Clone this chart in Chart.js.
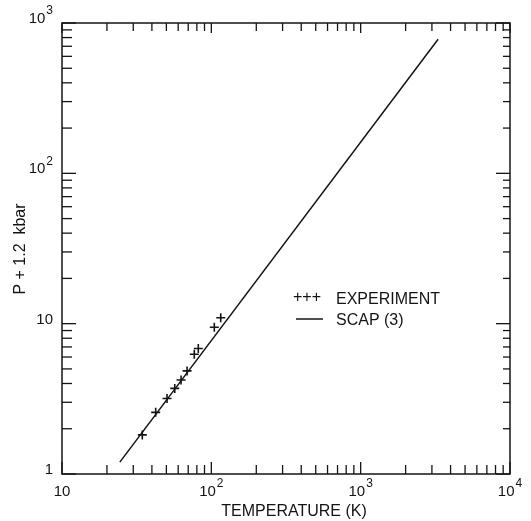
<!DOCTYPE html>
<html>
<head>
<meta charset="utf-8">
<script src="https://cdn.jsdelivr.net/npm/chart.js@4"></script>
<style>
  html, body { margin: 0; padding: 0; background: #fff; }
</style>
</head>
<body>
<canvas id="myChart" width="531" height="521"></canvas>
<script>
// valores
const expTemp = [34.5, 42.4, 50.5, 56.9, 62.7, 68.8, 76.9, 81.8, 104.7, 115.6];
const expP = [1.82, 2.57, 3.18, 3.71, 4.22, 4.85, 6.26, 6.84, 9.46, 10.96];
const scapTemp = [24.4, 3300];
const scapP = [1.2, 780];

const xDecades = [10, 100, 1000, 10000];
const xTickBase = ['10', '10', '10', '10'];
const xTickExp = ['', '2', '3', '4'];
const yDecades = [1, 10, 100, 1000];
const yTickBase = ['1', '10', '10', '10'];
const yTickExp = ['', '', '2', '3'];

const ink = '#141414';
const font = "'Liberation Sans', Arial, sans-serif";

function seg(ctx, x1, y1, x2, y2) {
  ctx.beginPath();
  ctx.moveTo(x1, y1);
  ctx.lineTo(x2, y2);
  ctx.stroke();
}

function powerLabel(ctx, base, exp, x, y, align) {
  ctx.font = '15px ' + font;
  const wb = ctx.measureText(base).width;
  ctx.font = '12px ' + font;
  const we = exp ? ctx.measureText(exp).width + 1 : 0;
  let left = x - (wb + we) / 2;
  if (align === 'right') left = x - wb - we;
  ctx.textAlign = 'left';
  ctx.textBaseline = 'middle';
  ctx.font = '15px ' + font;
  ctx.fillText(base, left, y);
  if (exp) {
    ctx.font = '12px ' + font;
    ctx.fillText(exp, left + wb + 1, y - 8);
  }
}

// moldura, marcas para dentro, rótulos e legenda
const framePlugin = {
  id: 'frame',
  afterDraw(chart) {
    const { ctx, chartArea: a, scales: { x, y } } = chart;
    ctx.save();
    ctx.strokeStyle = ink;
    ctx.fillStyle = ink;
    ctx.lineWidth = 1.5;
    ctx.strokeRect(a.left, a.top, a.right - a.left, a.bottom - a.top);

    ctx.lineWidth = 1.3;
    xDecades.forEach((d, i) => {
      for (let m = 1; m <= 9; m++) {
        if (i === xDecades.length - 1 && m > 1) break;
        const px = x.getPixelForValue(d * m);
        const major = m === 1;
        seg(ctx, px, a.bottom, px, a.bottom - (major ? 12 : 9));
        seg(ctx, px, a.top, px, a.top + (major ? 10 : 8));
      }
      powerLabel(ctx, xTickBase[i], xTickExp[i], x.getPixelForValue(d), a.bottom + 18, 'center');
    });
    yDecades.forEach((d, i) => {
      for (let m = 1; m <= 9; m++) {
        if (i === yDecades.length - 1 && m > 1) break;
        const py = y.getPixelForValue(d * m);
        const major = m === 1;
        seg(ctx, a.left, py, a.left + (major ? 14 : 10), py);
        seg(ctx, a.right, py, a.right - (major ? 14 : 7), py);
      }
      powerLabel(ctx, yTickBase[i], yTickExp[i], a.left - 9, y.getPixelForValue(d) - 4, 'right');
    });

    // títulos dos eixos
    ctx.font = '16px ' + font;
    ctx.textAlign = 'center';
    ctx.textBaseline = 'middle';
    ctx.fillText('TEMPERATURE (K)', (a.left + a.right) / 2 + 8, a.bottom + 38);
    ctx.save();
    ctx.translate(21, 249);
    ctx.rotate(-Math.PI / 2);
    ctx.fillText('P + 1.2  kbar', 0, 0);
    ctx.restore();

    // legenda
    ctx.textAlign = 'left';
    ctx.font = '16px ' + font;
    ctx.fillText('+++', 293, 298);
    ctx.fillText('EXPERIMENT', 336, 300);
    ctx.lineWidth = 1.5;
    seg(ctx, 296, 319, 323, 319);
    ctx.fillText('SCAP (3)', 336, 321);
    ctx.restore();
  }
};

const ctx = document.getElementById('myChart').getContext('2d');

new Chart(ctx, {
  type: 'scatter',
  data: {
    datasets: [
      {
        label: 'EXPERIMENT',
        data: expTemp.map((t, i) => ({ x: t, y: expP[i] })),
        pointStyle: 'cross',
        pointRadius: 4.5,
        pointBorderWidth: 1.6,
        borderColor: ink,
        backgroundColor: ink,
        showLine: false
      },
      {
        label: 'SCAP (3)',
        data: scapTemp.map((t, i) => ({ x: t, y: scapP[i] })),
        showLine: true,
        pointRadius: 0,
        borderColor: ink,
        borderWidth: 1.5
      }
    ]
  },
  options: {
    responsive: false,
    animation: false,
    layout: { padding: { top: 23, right: 21, left: 0, bottom: 0 } },
    plugins: {
      legend: { display: false },
      tooltip: { enabled: false }
    },
    scales: {
      x: {
        type: 'logarithmic',
        min: 10,
        max: 10000,
        grid: { display: false },
        border: { display: false },
        ticks: { display: false },
        afterFit: (s) => { s.height = 47; }
      },
      y: {
        type: 'logarithmic',
        min: 1,
        max: 1000,
        grid: { display: false },
        border: { display: false },
        ticks: { display: false },
        afterFit: (s) => { s.width = 62; }
      }
    }
  },
  plugins: [framePlugin]
});
</script>
</body>
</html>
